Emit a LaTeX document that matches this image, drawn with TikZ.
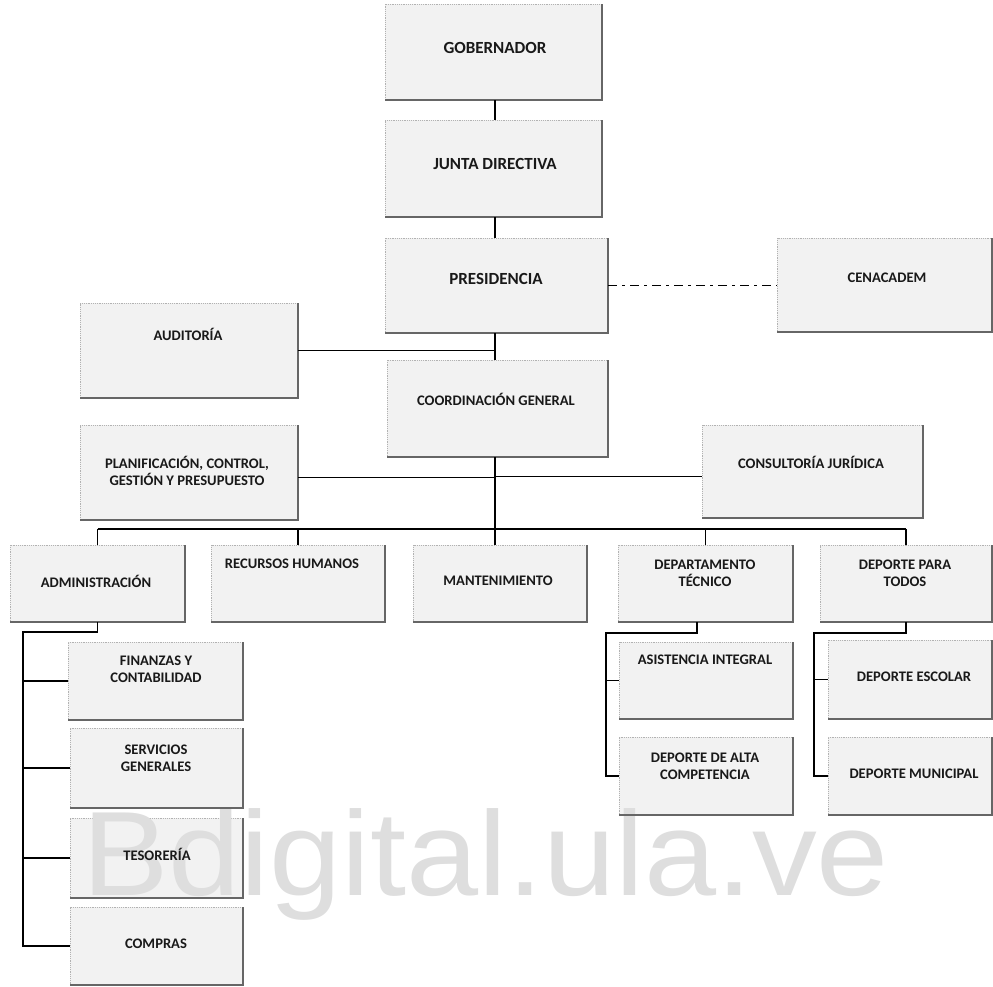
\documentclass[tikz,border=0pt]{standalone}
\usepackage{fontspec}
\setmainfont{Carlito}
\newfontfamily\wmfont{Liberation Sans}
\usetikzlibrary{calc}
\newcommand\orgbox[5]{\node[box, minimum width={#4-#2}, minimum height={#5-#3}] (#1) at (#2,#3) {};}
\newcommand\orgedge[1]{\draw[boxedge] (#1.south west) -- (#1.south east) -- (#1.north east);}
\begin{document}
\begin{tikzpicture}[x=1pt,y=-1pt,
  box/.style={fill=black!5, draw=black!30, dash pattern=on 1.2pt off 1pt, line width=0.6pt, inner sep=0pt, outer sep=0pt, anchor=north west},
  boxedge/.style={draw=black!60, line width=1.3pt},
  lbl/.style={font=\fontsize{14.6}{17}\selectfont\bfseries, align=center, inner sep=0pt, text=black!90, anchor=base},
  biglbl/.style={lbl, font=\fontsize{17}{20}\selectfont\bfseries},
  conn/.style={line width=1.7pt, black},
  dashdot/.style={line width=1.8pt, black, dash pattern=on 9pt off 5pt on 3pt off 5pt}]
\useasboundingbox (0,0) rectangle (993,986);
% boxes
\orgbox{gob}{385}{4}{602}{100}
\orgbox{junta}{385}{120}{602}{217}
\orgbox{pres}{385}{238}{608}{333}
\orgbox{cena}{777}{238}{992}{332}
\orgbox{aud}{80}{303}{298}{398}
\orgbox{coord}{387}{360}{608}{457}
\orgbox{plan}{80}{425}{298}{520}
\orgbox{cons}{702}{425}{923}{518}
\orgbox{adm}{10}{545}{185}{622}
\orgbox{rrhh}{211}{545}{385}{622}
\orgbox{mant}{413}{545}{587}{622}
\orgbox{dtec}{618}{545}{793}{622}
\orgbox{dpt}{820}{545}{992}{622}
\orgbox{fin}{68}{642}{243}{720}
\orgbox{serv}{70}{728}{243}{808}
\orgbox{tes}{70}{818}{243}{898}
\orgbox{comp}{70}{907}{243}{985}
\orgbox{asis}{619}{642}{793}{719}
\orgbox{alta}{619}{737}{793}{815}
\orgbox{esc}{828}{640}{992}{719}
\orgbox{mun}{828}{737}{992}{815}
% watermark
\node[font=\wmfont\fontsize{120}{120}\selectfont, text=black!13, anchor=base west, xscale=1.08, inner sep=0pt] (wm) at (82,895) {Bdigital.ula.ve};
% shaded edges
\foreach \n in {gob,junta,pres,cena,aud,coord,plan,cons,adm,rrhh,mant,dtec,dpt,fin,serv,tes,comp,asis,alta,esc,mun}{\orgedge{\n}}
% labels
\node[biglbl] (gob-t) at (495,53) {GOBERNADOR};
\node[biglbl] (junta-t) at (495,169) {JUNTA DIRECTIVA};
\node[biglbl] (pres-t) at (496,284) {PRESIDENCIA};
\node[lbl] (cena-t) at (887,282) {CENACADEM};
\node[lbl] (aud-t) at (188,340) {AUDITORÍA};
\node[lbl] (coord-t) at (496,405) {COORDINACIÓN GENERAL};
\node[lbl] (plan-t) at (187,485) {PLANIFICACIÓN, CONTROL,\\GESTIÓN Y PRESUPUESTO};
\node[lbl] (cons-t) at (811,468) {CONSULTORÍA JURÍDICA};
\node[lbl] (adm-t) at (96,587) {ADMINISTRACIÓN};
\node[lbl] (rrhh-t) at (292,568) {RECURSOS HUMANOS};
\node[lbl] (mant-t) at (498,585) {MANTENIMIENTO};
\node[lbl] (dtec-t) at (705,586) {DEPARTAMENTO\\TÉCNICO};
\node[lbl] (dpt-t) at (905,586) {DEPORTE PARA\\TODOS};
\node[lbl] (fin-t) at (156,682) {FINANZAS Y\\CONTABILIDAD};
\node[lbl] (serv-t) at (156,771) {SERVICIOS\\GENERALES};
\node[lbl] (tes-t) at (157,860) {TESORERÍA};
\node[lbl] (comp-t) at (156,948) {COMPRAS};
\node[lbl] (asis-t) at (705,664) {ASISTENCIA INTEGRAL};
\node[lbl] (alta-t) at (705,779) {DEPORTE DE ALTA\\COMPETENCIA};
\node[lbl] (esc-t) at (914,681) {DEPORTE ESCOLAR};
\node[lbl] (mun-t) at (914,778) {DEPORTE MUNICIPAL};
% connectors
\coordinate (sp) at (495,0);
\coordinate (bus) at (0,529);
\draw[conn] (sp |- gob.south) -- (sp |- junta.north);
\draw[conn] (sp |- junta.south) -- (sp |- pres.north);
\draw[conn] (sp |- pres.south) -- (sp |- coord.north);
\draw[conn] (aud.east) -- (sp |- aud.east);
\draw[dashdot] (pres.east) -- (pres.east -| cena.west);
\draw[conn] (sp |- coord.south) -- (sp |- mant.north);
\draw[conn] ($(plan.east)+(0,5)$) -- ($(sp |- plan.east)+(0,5)$);
\draw[conn] ($(sp |- cons.west)+(0,5)$) -- ($(cons.west)+(0,5)$);
\draw[conn] (adm.north |- bus) -- (dpt.north |- bus);
\draw[conn] (adm.north |- bus) -- (adm.north);
\draw[conn] (rrhh.north |- bus) -- (rrhh.north);
\draw[conn] (dtec.north |- bus) -- (dtec.north);
\draw[conn] (dpt.north |- bus) -- (dpt.north);
% administracion branch
\coordinate (av) at (23,632);
\draw[conn] (adm.south) -- (adm.south |- av) -- (av) -- (av |- comp.west) -- (comp.west);
\draw[conn] (av |- fin.west) -- (fin.west);
\draw[conn] (av |- serv.west) -- (serv.west);
\draw[conn] (av |- tes.west) -- (tes.west);
% departamento tecnico branch
\coordinate (dd) at (697,0);
\coordinate (dv) at (606,633);
\draw[conn] (dd |- dtec.south) -- (dd |- dv) -- (dv) -- (dv |- alta.west) -- (alta.west);
\draw[conn] (dv |- asis.west) -- (asis.west);
% deporte para todos branch
\coordinate (pv) at (814,633);
\draw[conn] (dpt.south) -- (dpt.south |- pv) -- (pv) -- (pv |- mun.west) -- (mun.west);
\draw[conn] (pv |- esc.west) -- (esc.west);
\end{tikzpicture}
\end{document}
